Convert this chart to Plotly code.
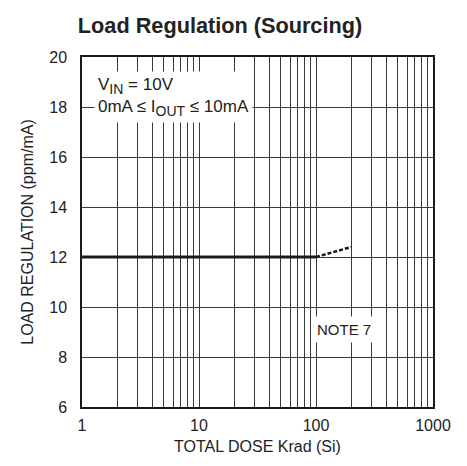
import plotly.graph_objects as go

# Data
dose_measured = [1, 100]          # Krad (Si)
reg_measured = [12, 12]           # ppm/mA
dose_extrap = [100, 200]
reg_extrap = [12, 12.4]

y_ticks = [6, 8, 10, 12, 14, 16, 18, 20]
x_ticks = [1, 10, 100, 1000]
x_tick_labels = ["1", "10", "100", "1000"]

FONT = "Liberation Sans, Arial, sans-serif"
GRID = "#3a3a3a"
TXT = "#222"

# page body has an 8px margin, so the figure is drawn 8px in from the top-left
W, H = 459, 458
L, R, T, B = 74, 34, 49, 59
PW, PH = W - L - R, H - T - B

fig = go.Figure()
fig.add_trace(go.Scatter(x=dose_measured, y=reg_measured, mode="lines",
                         line=dict(color="#1a1a1a", width=3), showlegend=False))
fig.add_trace(go.Scatter(x=dose_extrap, y=reg_extrap, mode="lines",
                         line=dict(color="#1a1a1a", width=2.5, dash="4px,2px"),
                         showlegend=False))

fig.update_layout(
    width=W, height=H,
    margin=dict(l=L, r=R, t=T, b=B, autoexpand=False),
    paper_bgcolor="white", plot_bgcolor="white",
    font=dict(family=FONT, size=16, color=TXT),
    title=dict(text="<b>Load Regulation (Sourcing)</b>", x=212 / W, xanchor="center",
               y=1 - 17 / H, yanchor="middle",
               font=dict(family=FONT, size=21.7, color=TXT)),
)

fig.update_xaxes(
    type="log", range=[0, 3], automargin=False,
    tickvals=x_ticks, ticktext=x_tick_labels,
    showgrid=True, gridcolor=GRID, gridwidth=1,
    minor=dict(dtick="D1", showgrid=True, gridcolor=GRID, gridwidth=1, ticks=""),
    showline=True, linecolor="#1a1a1a", linewidth=1.5, mirror=True,
    ticks="", ticklabelstandoff=3, zeroline=False,
    title=dict(text="TOTAL DOSE Krad (Si)", standoff=8, font=dict(size=16)),
)
fig.update_yaxes(
    range=[6, 20], tickvals=y_ticks, automargin=False,
    showgrid=True, gridcolor=GRID, gridwidth=1,
    showline=True, linecolor="#1a1a1a", linewidth=1.5, mirror=True,
    ticks="", ticklabelstandoff=10, zeroline=False,
    title=dict(text="LOAD REGULATION (ppm/mA)", standoff=12, font=dict(size=16)),
)

SUB = "<sub><span style='font-size:14px'>{}</span></sub>"
fig.add_annotation(
    text="V" + SUB.format("IN") + " = 10V<br>0mA ≤ I" + SUB.format("OUT") + " ≤ 10mA",
    xref="paper", yref="paper", x=(86 - 74) / PW, y=1 - (14) / PH,
    xanchor="left", yanchor="top", align="left", showarrow=False,
    bgcolor="white", borderpad=3, font=dict(family=FONT, size=17, color=TXT),
)
fig.add_annotation(
    text="NOTE 7",
    xref="paper", yref="paper", x=(304 - 74) / PW, y=1 - (321 - 49) / PH,
    xanchor="left", yanchor="middle", align="left", showarrow=False,
    bgcolor="white", borderpad=4, font=dict(family=FONT, size=15, color=TXT),
)

fig.write_html("out.html")
